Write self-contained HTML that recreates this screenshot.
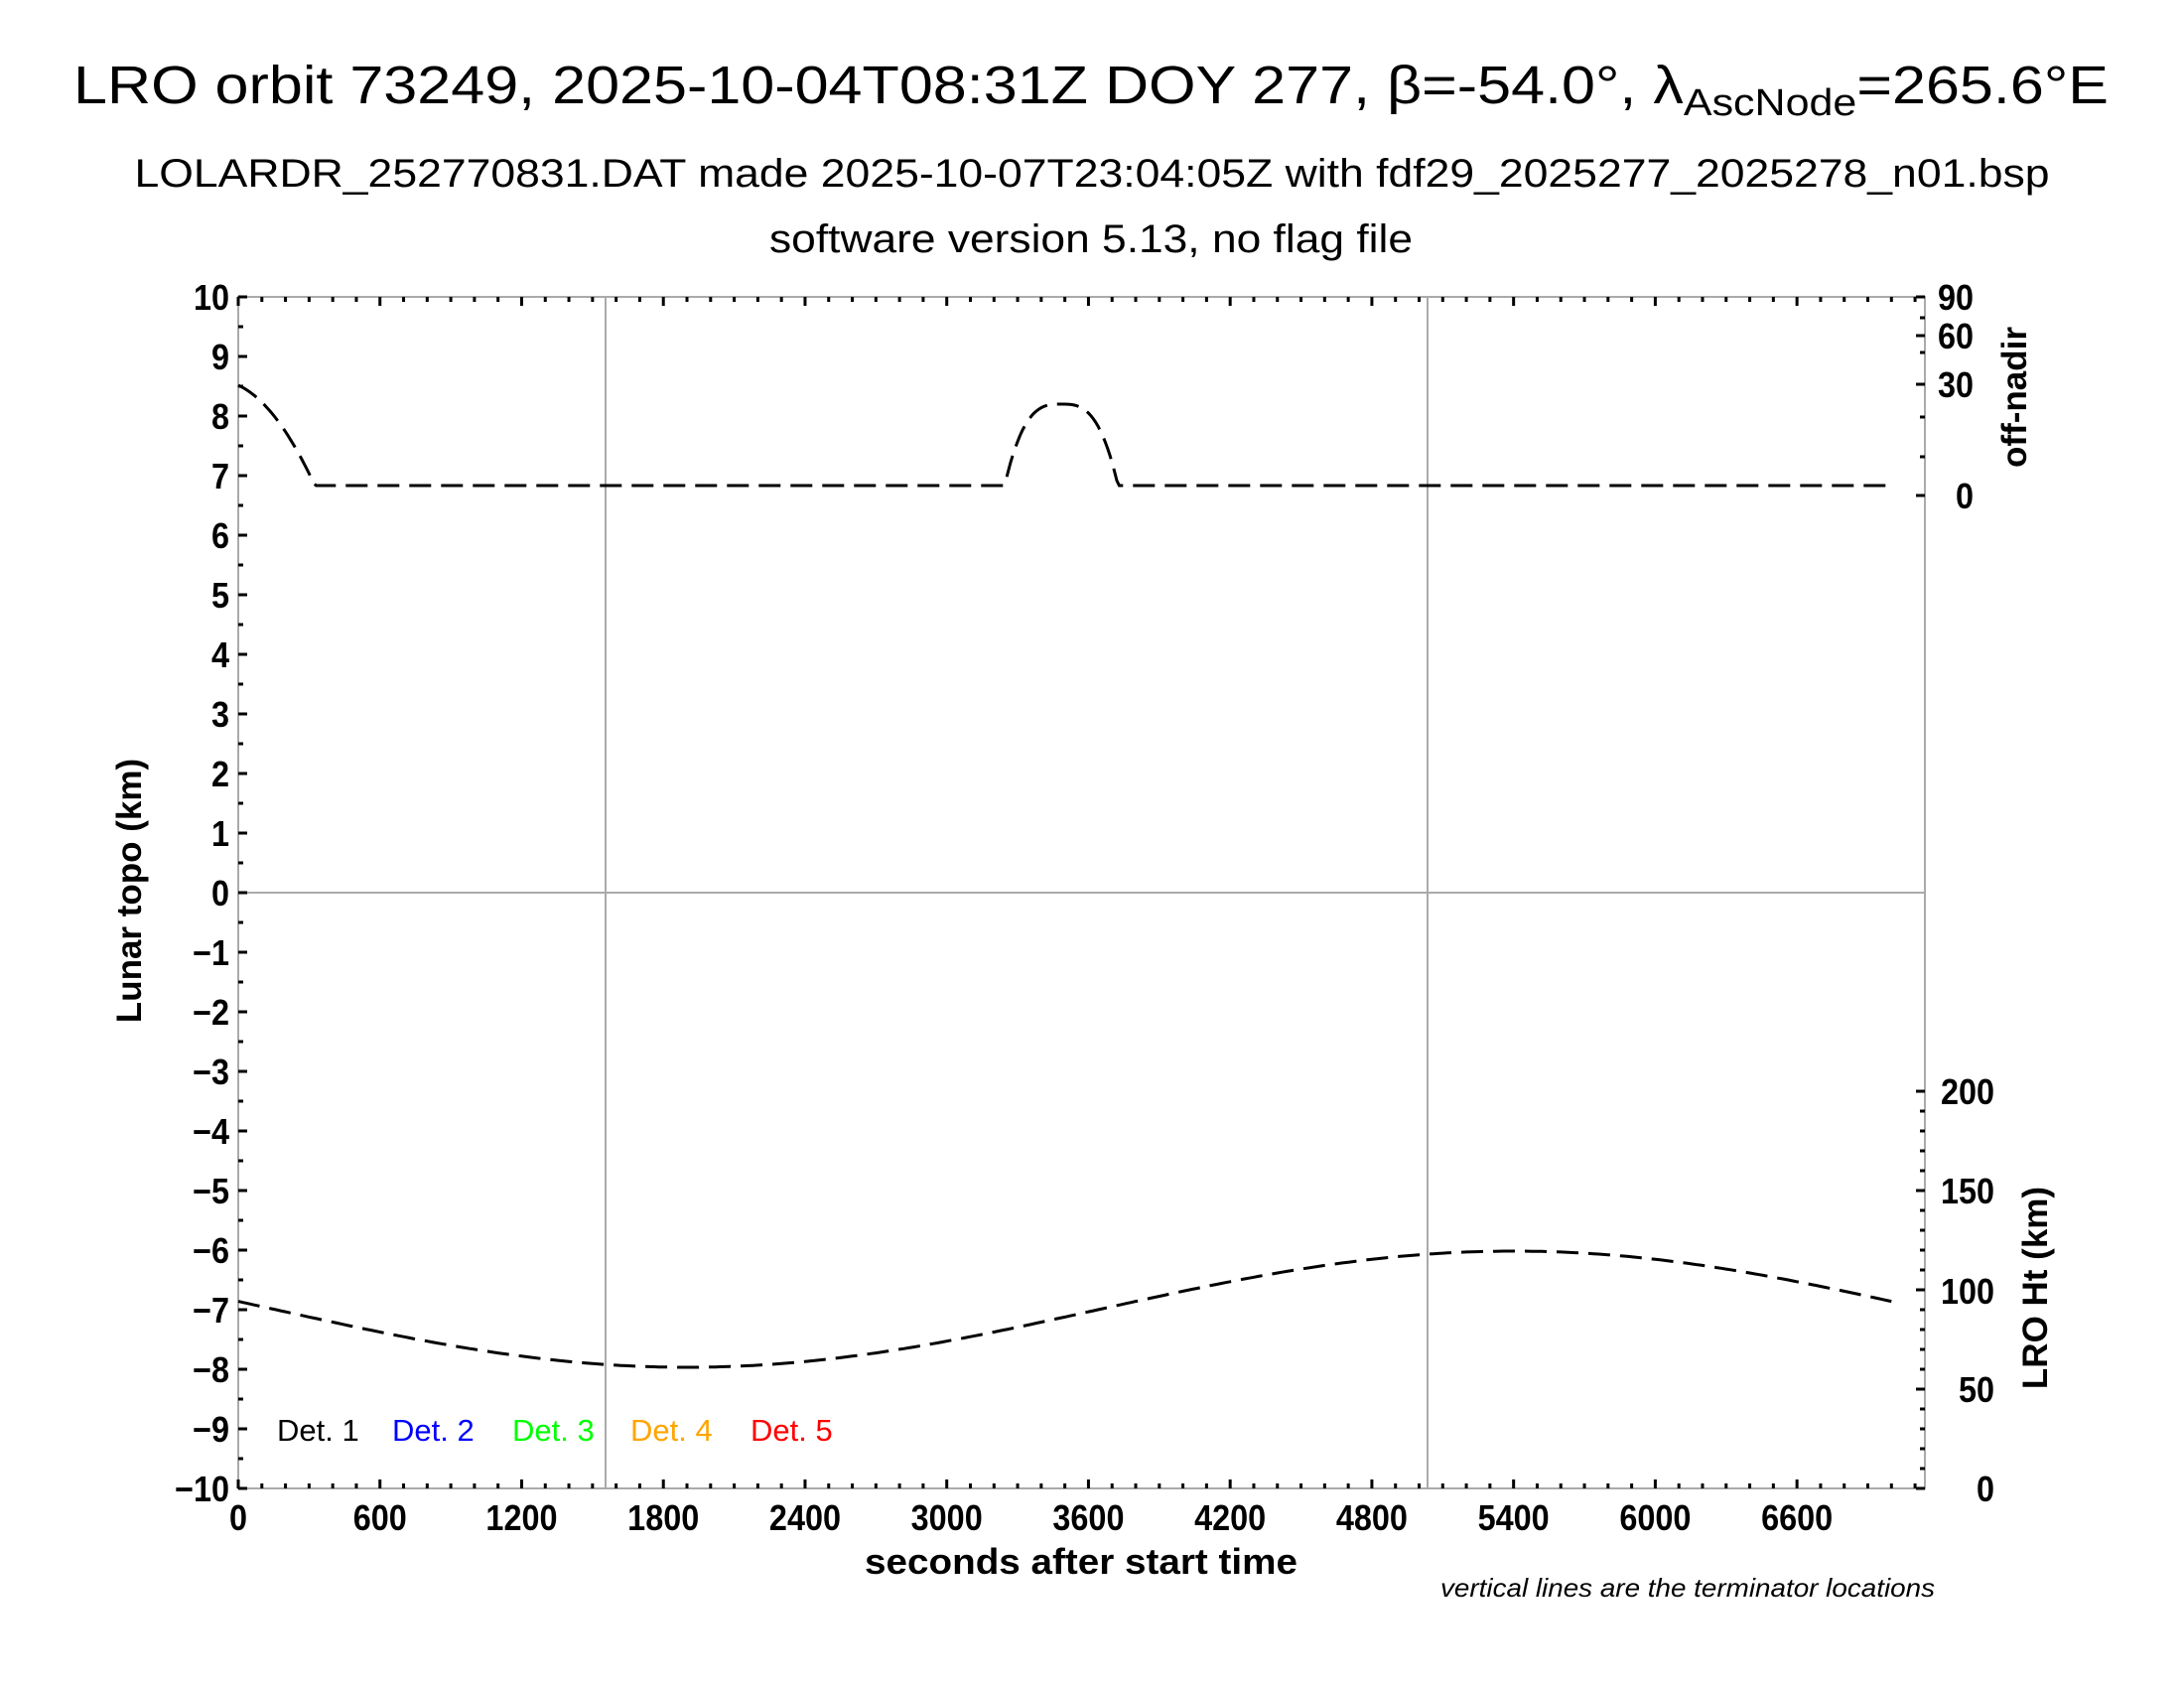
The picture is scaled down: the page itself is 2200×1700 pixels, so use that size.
<!DOCTYPE html>
<html><head><meta charset="utf-8"><style>
html,body{margin:0;padding:0;background:#fff}
svg{display:block}
text{font-family:"Liberation Sans",Arial,sans-serif}
</style></head><body>
<svg id="s" width="2200" height="1700" xmlns="http://www.w3.org/2000/svg">
<rect width="2200" height="1700" fill="#fff"/>
<text x="1099" y="104" font-size="54" text-anchor="middle" textLength="2050" lengthAdjust="spacingAndGlyphs">LRO orbit 73249, 2025-10-04T08:31Z DOY 277, β=-54.0°, λ<tspan font-size="38" dy="12">AscNode</tspan><tspan dy="-12">=265.6°E</tspan></text>
<text x="1100" y="188" font-size="40" text-anchor="middle" textLength="1929" lengthAdjust="spacingAndGlyphs">LOLARDR_252770831.DAT made 2025-10-07T23:04:05Z with fdf29_2025277_2025278_n01.bsp</text>
<text x="1099" y="254" font-size="40" text-anchor="middle" textLength="648" lengthAdjust="spacingAndGlyphs">software version 5.13, no flag file</text>
<g id="grid" stroke="#aaa" stroke-width="2" fill="none">
<rect x="240" y="299" width="1699" height="1200"/>
<line x1="240" y1="899" x2="1939" y2="899"/>
<line x1="610" y1="299" x2="610" y2="1499"/>
<line x1="1438" y1="299" x2="1438" y2="1499"/>
</g>
<g id="ticks" stroke="#000" stroke-width="3"></g>
<g id="curves" stroke="#000" stroke-width="3" fill="none" stroke-dasharray="22,10"></g>
<g id="labels" font-size="36" font-weight="bold"></g>
<text x="1089" y="1585" font-size="36" font-weight="bold" text-anchor="middle" textLength="436" lengthAdjust="spacingAndGlyphs">seconds after start time</text>
<text x="1949" y="1608" font-size="26" font-style="italic" text-anchor="end" textLength="498" lengthAdjust="spacingAndGlyphs">vertical lines are the terminator locations</text>
<text transform="translate(142,897) rotate(-90)" font-size="35" font-weight="bold" text-anchor="middle">Lunar topo (km)</text>
<text transform="translate(2041,400) rotate(-90)" font-size="35" font-weight="bold" text-anchor="middle">off-nadir</text>
<text transform="translate(2062,1297) rotate(-90)" font-size="35" font-weight="bold" text-anchor="middle">LRO Ht (km)</text>
<g font-size="31">
<text x="279" y="1451" fill="#000">Det. 1</text>
<text x="395" y="1451" fill="#0000ff">Det. 2</text>
<text x="516" y="1451" fill="#00ff00">Det. 3</text>
<text x="635" y="1451" fill="#ffa500">Det. 4</text>
<text x="756" y="1451" fill="#ff0000">Det. 5</text>
</g>
</svg>
<script>
var NS="http://www.w3.org/2000/svg";
function el(p,t,a,txt){var e=document.createElementNS(NS,t);for(var k in a)e.setAttribute(k,a[k]);if(txt!=null)e.textContent=txt;document.getElementById(p).appendChild(e);return e;}
var X=function(t){return 240+t*0.2379;};
function lab(x,y,anchor,s){var e=el("labels","text",{x:x,y:y,"text-anchor":anchor,transform:"translate("+x+",0) scale(0.9,1) translate("+(-x)+",0)"},s);}
for(var t=0;t<=7100;t+=100){var x=X(t);var L=(t%600==0)?9:5;
 el("ticks","line",{x1:x,y1:1499,x2:x,y2:1499-L});el("ticks","line",{x1:x,y1:299,x2:x,y2:299+L});}
for(var t=0;t<=6600;t+=600){lab(X(t),1541,"middle",String(t));}
for(var v=-10;v<=10;v+=0.5){var y=899-60*v;var L=(v%1==0)?9:5;el("ticks","line",{x1:240,y1:y,x2:240+L,y2:y});}
for(var v=-10;v<=10;v++){var y=899-60*v;lab(231,y+13,"end",v<0?"\u2212"+(-v):String(v));}
[299,338,387,499].forEach(function(y){el("ticks","line",{x1:1939,y1:y,x2:1930,y2:y});});
[320,355,420,460].forEach(function(y){el("ticks","line",{x1:1939,y1:y,x2:1934,y2:y});});
for(var h=0;h<=200;h+=10){var y=1499-2*h;el("ticks","line",{x1:1939,y1:y,x2:h%50==0?1930:1934,y2:y});}
[[90,299],[60,338],[30,387],[0,499]].forEach(function(a){lab(1988,a[1]+13,"end",String(a[0]));});
[[200,1099],[150,1199],[100,1300],[50,1399],[0,1499]].forEach(function(a){lab(2009,a[1]+13,"end",String(a[0]));});
var d="";for(var t=0;t<=7000;t+=20){var y=1318.5+58.5*Math.cos(2*Math.PI*(t-1900)/7000);d+=(t?"L":"M")+X(t).toFixed(1)+","+y.toFixed(1);}
el("curves","path",{d:d});
var base=489,d2="";
for(var t=0;t<=7000;t+=10){var y=base;
 if(t<324){var f=t/324;y=388+(base-388)*(0.35*f+0.65*f*f);}
 else if(t>3245&&t<3724){var u=(t-3485)/240;y=base-(base-407)*Math.max(0,1-Math.pow(Math.abs(u),3));}
 d2+=(t?"L":"M")+X(t).toFixed(1)+","+y.toFixed(1);}
el("curves","path",{d:d2});
</script>
</body></html>
